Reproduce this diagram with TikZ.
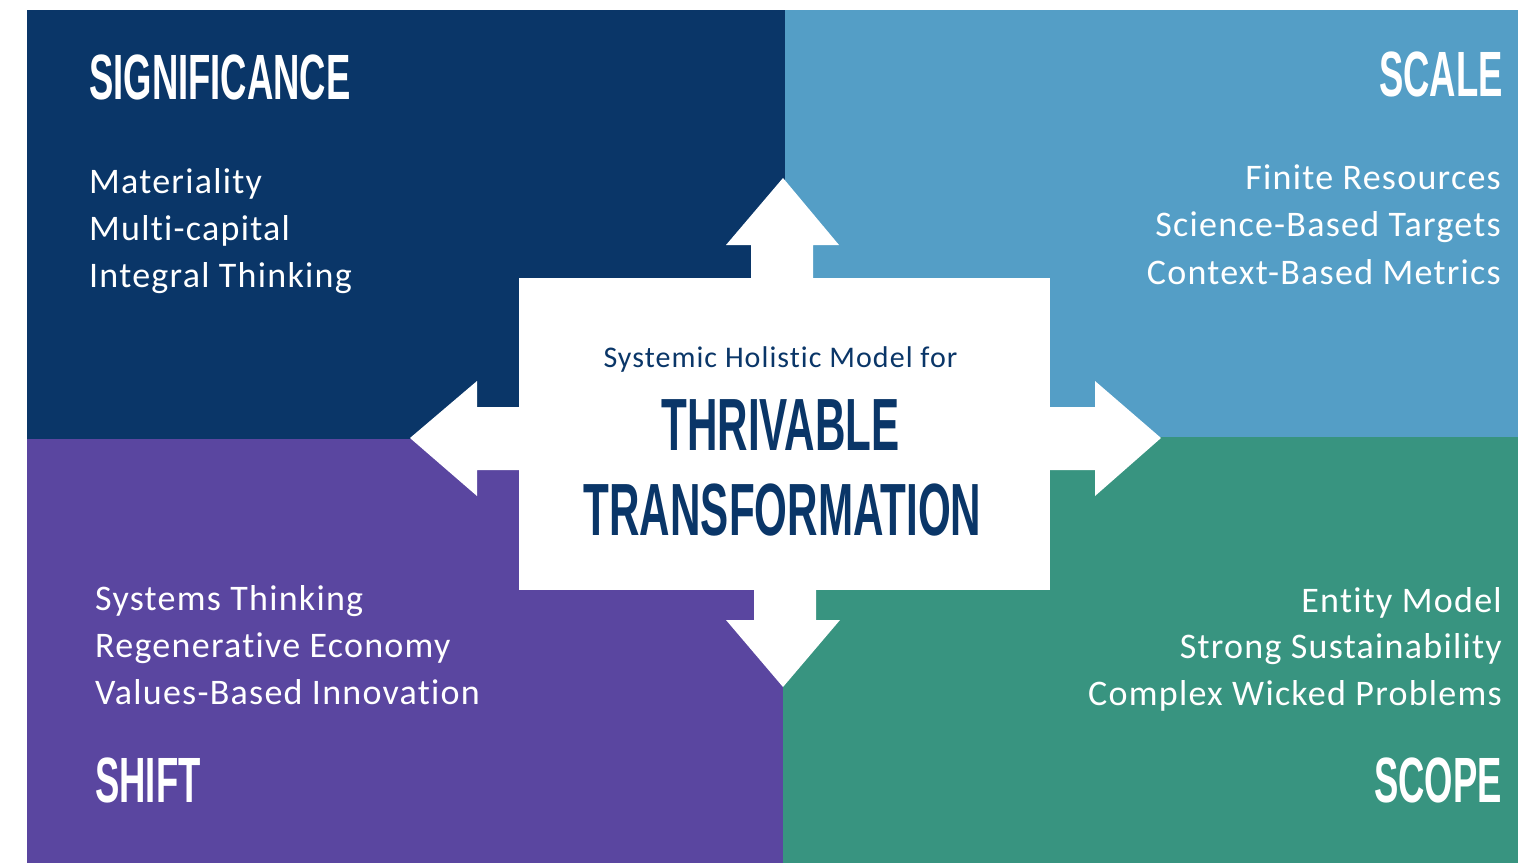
\documentclass[tikz,border=0pt]{standalone}
\usepackage{fontspec}
\setmainfont{Carlito}[Ligatures=NoCommon,LetterSpace=3.5]
\newfontfamily\headfont{Liberation Sans Bold}[FakeStretch=0.57]
\usetikzlibrary{positioning}

\definecolor{signavy}{HTML}{0A3668}
\definecolor{scaleblue}{HTML}{549EC6}
\definecolor{shiftpurple}{HTML}{5A46A0}
\definecolor{scopegreen}{HTML}{389480}

\begin{document}
\begin{tikzpicture}[x=1pt,y=-1pt,
  head/.style={text=white,font=\headfont\fontsize{64}{64}\selectfont,inner sep=0pt},
  item/.style={text=white,font=\fontsize{36}{43}\selectfont,inner sep=0pt},
  big/.style={text=signavy,font=\headfont\fontsize{74}{74}\selectfont,inner sep=0pt}]
  \useasboundingbox (0,0) rectangle (1518,863);

  % four quadrants
  \fill[signavy]     (27,10)  rectangle (785,439);
  \fill[scaleblue]   (785,10) rectangle (1518,437);
  \fill[shiftpurple] (27,439) rectangle (783,863);
  \fill[scopegreen]  (783,437) rectangle (1518,863);

  % centre box and its arrows
  \node[fill=white,minimum width=531pt,minimum height=312pt,inner sep=0pt] (core) at (784.5,434) {};
  \fill[white] (751,279) -- (751,245) -- (726,245) -- (783,178) -- (839,245) -- (813,245) -- (813,279) -- cycle;
  \fill[white] (1049,407) -- (1095,407) -- (1095,381) -- (1161,438) -- (1095,496) -- (1095,470) -- (1049,470) -- cycle;
  \fill[white] (754,589) -- (754,620) -- (726,620) -- (783,687) -- (840,620) -- (816,620) -- (816,589) -- cycle;
  \fill[white] (520,407) -- (477,407) -- (477,381) -- (410,438) -- (477,496) -- (477,470) -- (520,470) -- cycle;

  \node[text=signavy,font=\fontsize{30}{36}\selectfont,inner sep=0pt,anchor=base] (model) at (780.5,367) {Systemic Holistic Model for};
  \node[big,anchor=base] (thrive) at (780.5,450) {THRIVABLE};
  \node[big,anchor=base] (transform) at (782.5,535) {TRANSFORMATION};

  % headings
  \node[head,anchor=base west] (sig)   at (89,99)    {SIGNIFICANCE};
  \node[head,anchor=base east] (scale) at (1503,96)  {SCALE};
  \node[head,anchor=base west] (shift) at (95,802)   {SHIFT};
  \node[head,anchor=base east] (scope) at (1502,802) {SCOPE};

  % lists
  \foreach \txt [count=\i] in {Materiality,Multi-capital,Integral Thinking}
    \node[item,anchor=base west] (sig\i) at (89,{193+47*(\i-1)}) {\txt};
  \foreach \txt [count=\i] in {Finite Resources,Science-Based Targets,Context-Based Metrics}
    \node[item,anchor=base east] (scale\i) at (1501,{189+47.5*(\i-1)}) {\txt};
  \foreach \txt [count=\i] in {Systems Thinking,Regenerative Economy,Values-Based Innovation}
    \node[item,anchor=base west] (shift\i) at (95,{610+47*(\i-1)}) {\txt};
  \foreach \txt [count=\i] in {Entity Model,Strong Sustainability,Complex Wicked Problems}
    \node[item,anchor=base east] (scope\i) at (1502,{612+46.5*(\i-1)}) {\txt};
\end{tikzpicture}
\end{document}
